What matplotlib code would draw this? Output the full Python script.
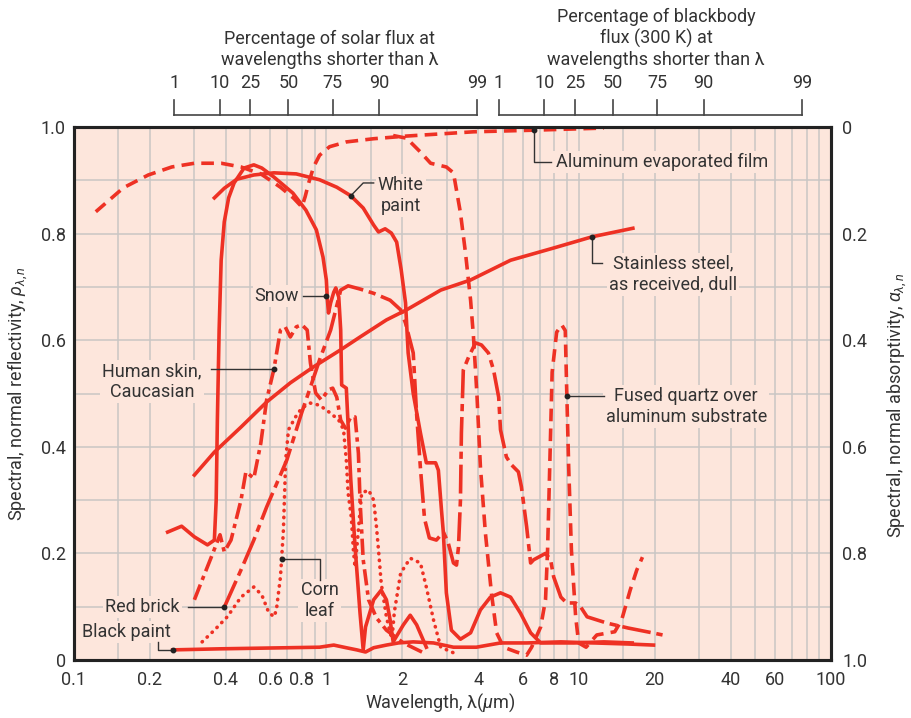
import matplotlib
matplotlib.use('Agg')
import matplotlib.pyplot as plt
from matplotlib.ticker import NullFormatter

plt.rcParams['font.family'] = ['Roboto', 'DejaVu Sans']
plt.rcParams['mathtext.fontset'] = 'custom'
plt.rcParams['mathtext.rm'] = 'Roboto'
plt.rcParams['mathtext.it'] = 'Roboto:italic'

RED = '#ee3124'
BG = '#fde6dc'
TXT = '#333333'
GRID = '#c9c6c4'

# ---- data: wavelength (um) and spectral normal reflectivity ----
alu_wl = [0.122, 0.157, 0.197, 0.244, 0.30, 0.383, 0.459, 0.55, 0.658, 0.74, 0.80,
          0.824, 0.85, 0.89, 0.94, 1.03, 1.20, 1.54, 2.08, 3.83, 6.6, 12.6]
alu_r = [0.841, 0.886, 0.910, 0.925, 0.932, 0.932, 0.925, 0.912, 0.887, 0.867, 0.85,
         0.869, 0.894, 0.925, 0.947, 0.963, 0.972, 0.978, 0.983, 0.991, 0.994, 0.998]

quartz_wl = [1.84, 2.08, 2.36, 2.59, 2.99, 3.19, 3.40, 3.56, 3.73, 3.83,
             3.95, 4.08, 4.27, 4.51, 4.73, 5.04, 5.67, 6.22, 6.51, 7.07,
             7.39, 7.53, 7.62, 7.74, 7.85, 8.18, 8.56, 8.85, 8.96, 9.13,
             9.36, 9.73, 10.0, 10.7, 11.8, 13.9, 14.8, 16.0, 17.0, 17.9]
quartz_r = [0.984, 0.979, 0.953, 0.932, 0.925, 0.914, 0.839, 0.764, 0.675, 0.606,
            0.50, 0.362, 0.238, 0.126, 0.051, 0.024, 0.015, 0.009, 0.024, 0.062,
            0.113, 0.206, 0.30, 0.426, 0.54, 0.615, 0.629, 0.618, 0.512, 0.362,
            0.206, 0.081, 0.032, 0.024, 0.047, 0.053, 0.075, 0.131, 0.169, 0.193]

steel_wl = [0.30, 0.36, 0.459, 0.58, 0.72, 0.89, 1.14, 1.36, 1.73, 2.08, 2.84, 3.73,
            5.37, 7.96, 11.3, 16.4]
steel_r = [0.347, 0.390, 0.437, 0.484, 0.520, 0.550, 0.582, 0.606, 0.638, 0.657, 0.694,
           0.713, 0.75, 0.773, 0.794, 0.810]

paint_wl = [0.36, 0.394, 0.442, 0.516, 0.62, 0.76, 0.94, 1.10, 1.25, 1.40,
            1.54, 1.61, 1.71, 1.81, 1.90, 1.98, 2.06, 2.11, 2.21, 2.36,
            2.49, 2.71, 2.78, 2.86, 2.91, 2.99, 3.13, 3.40, 3.73, 4.08,
            4.47, 4.90, 5.37, 5.88, 6.45, 7.07, 9.55, 12.6, 16.3]
paint_r = [0.867, 0.885, 0.902, 0.910, 0.914, 0.912, 0.901, 0.887, 0.871, 0.848,
           0.816, 0.803, 0.809, 0.801, 0.784, 0.732, 0.670, 0.576, 0.50, 0.426,
           0.37, 0.37, 0.356, 0.281, 0.238, 0.126, 0.056, 0.039, 0.051, 0.094,
           0.118, 0.126, 0.118, 0.088, 0.051, 0.032, 0.032, 0.034, 0.032]

snow_wl = [0.235, 0.267, 0.30, 0.338, 0.36, 0.366, 0.37, 0.376, 0.383, 0.394,
           0.41, 0.431, 0.472, 0.516, 0.555, 0.62, 0.737, 0.83, 0.913, 0.97,
           1.0, 1.01, 1.02, 1.04, 1.07, 1.09, 1.12, 1.14, 1.15, 1.20,
           1.25, 1.30, 1.36, 1.40, 1.43, 1.54, 1.65, 1.73, 1.79, 1.84,
           2.02, 2.15, 2.28, 2.49]
snow_r = [0.24, 0.251, 0.231, 0.216, 0.225, 0.30, 0.45, 0.62, 0.75, 0.822,
          0.867, 0.895, 0.923, 0.929, 0.923, 0.906, 0.876, 0.844, 0.807, 0.756,
          0.713, 0.675, 0.651, 0.67, 0.69, 0.698, 0.681, 0.619, 0.516, 0.51,
          0.338, 0.212, 0.088, 0.019, 0.062, 0.113, 0.131, 0.113, 0.075, 0.034,
          0.066, 0.084, 0.066, 0.024]

skin_wl = [0.30, 0.322, 0.35, 0.379, 0.394, 0.419, 0.459, 0.48, 0.516, 0.55,
           0.58, 0.62, 0.658, 0.687, 0.72, 0.76, 0.80, 0.84, 0.865, 0.907,
           0.955, 1.02, 1.06, 1.10, 1.14, 1.19, 1.25, 1.30, 1.34, 1.36,
           1.40, 1.47, 1.58, 1.73, 2.02, 2.49]
skin_r = [0.113, 0.150, 0.193, 0.235, 0.203, 0.225, 0.30, 0.353, 0.341, 0.407,
          0.488, 0.546, 0.619, 0.625, 0.606, 0.625, 0.629, 0.619, 0.557, 0.501,
          0.488, 0.507, 0.51, 0.493, 0.45, 0.435, 0.456, 0.456, 0.388, 0.30,
          0.188, 0.113, 0.079, 0.056, 0.032, 0.011]

brick_wl = [0.394, 0.459, 0.516, 0.58, 0.697, 0.80, 0.865, 0.94, 1.04, 1.14,
            1.22, 1.36, 1.54, 1.79, 1.97, 2.06, 2.21, 2.28, 2.36, 2.45,
            2.56, 2.73, 2.91, 3.04, 3.19, 3.28, 3.34, 3.40, 3.43, 3.49,
            3.66, 3.90, 4.12, 4.39, 4.60, 4.82, 4.90, 5.17, 5.42, 5.77,
            5.93, 6.22, 6.45, 6.63, 7.39, 7.74, 7.96, 8.5, 8.96, 9.73,
            10.2, 10.8, 13.0, 15.7, 19.6, 21.5]
brick_r = [0.099, 0.169, 0.225, 0.287, 0.375, 0.465, 0.512, 0.563, 0.619, 0.694,
           0.702, 0.696, 0.688, 0.675, 0.657, 0.632, 0.576, 0.46, 0.36, 0.265,
           0.229, 0.225, 0.24, 0.22, 0.182, 0.178, 0.212, 0.30, 0.426, 0.544,
           0.568, 0.595, 0.591, 0.576, 0.544, 0.493, 0.432, 0.381, 0.366, 0.353,
           0.325, 0.25, 0.182, 0.188, 0.20, 0.188, 0.156, 0.118, 0.107, 0.107,
           0.099, 0.081, 0.069, 0.06, 0.051, 0.047]

corn_wl = [0.322, 0.36, 0.405, 0.459, 0.516, 0.555, 0.59, 0.62, 0.634, 0.658,
           0.676, 0.69, 0.708, 0.755, 0.80, 0.865, 0.94, 1.04, 1.12, 1.17,
           1.20, 1.22, 1.256, 1.28, 1.30, 1.38, 1.47, 1.54, 1.58, 1.61,
           1.65, 1.73, 1.79, 1.82, 1.86, 1.97, 2.15, 2.36, 2.49, 2.66,
           2.84, 3.28]
corn_r = [0.034, 0.056, 0.081, 0.118, 0.137, 0.122, 0.09, 0.081, 0.094, 0.156,
          0.244, 0.375, 0.432, 0.456, 0.473, 0.482, 0.478, 0.463, 0.45, 0.432,
          0.375, 0.313, 0.268, 0.206, 0.174, 0.313, 0.319, 0.30, 0.25, 0.206,
          0.144, 0.081, 0.051, 0.04, 0.09, 0.163, 0.191, 0.182, 0.137, 0.075,
          0.024, 0.011]

black_wl = [0.246, 0.383, 0.697, 0.94, 1.07, 1.20, 1.32, 1.43, 1.54, 1.73, 1.93,
            2.21, 2.66, 3.19, 3.93, 4.90, 6.22, 8.5, 11.5, 15.7, 19.8]
black_r = [0.019, 0.021, 0.023, 0.024, 0.028, 0.023, 0.019, 0.015, 0.023, 0.028, 0.032,
           0.034, 0.032, 0.024, 0.024, 0.032, 0.032, 0.034, 0.032, 0.030, 0.028]

# percentage scales on top (wavelengths where the cumulative fraction is reached)
pct_labels = ['1', '10', '25', '50', '75', '90', '99']
solar_wl = [0.25, 0.378, 0.50, 0.708, 1.06, 1.62, 3.97]
bb300_wl = [4.83, 7.32, 9.66, 13.7, 20.5, 31.3, 76.7]

x_ticks = [0.1, 0.2, 0.4, 0.6, 0.8, 1, 2, 4, 6, 8, 10, 20, 40, 60, 100]
x_labels = ['0.1', '0.2', '0.4', '0.6', '0.8', '1', '2', '4', '6', '8', '10',
            '20', '40', '60', '100']
x_grid = [0.15, 0.3, 0.5, 0.7, 0.9, 1.5, 3, 5, 7, 9, 15, 30, 50, 70, 80, 90]
y_ticks = [0, 0.2, 0.4, 0.6, 0.8, 1.0]
y_labels = ['0', '0.2', '0.4', '0.6', '0.8', '1.0']
y_grid = [0.1, 0.3, 0.5, 0.7, 0.9]

fig = plt.figure(figsize=(9.12, 7.18), dpi=100)
ax = fig.add_axes([74 / 912, 58 / 718, 757 / 912, 533 / 718])
ax.set_facecolor(BG)
ax.set_xscale('log')
ax.set_xlim(0.1, 100)
ax.set_ylim(0, 1)
ax.set_xticks(x_ticks)
ax.set_xticklabels(x_labels)
ax.set_xticks(x_grid, minor=True)
ax.xaxis.set_minor_formatter(NullFormatter())
ax.set_yticks(y_ticks)
ax.set_yticklabels(y_labels)
ax.set_yticks(y_grid, minor=True)
ax.set_axisbelow(True)
ax.grid(which='both', color=GRID, lw=1.1)
ax.tick_params(which='both', length=0, labelsize=13, labelcolor=TXT)
ax.tick_params(axis='x', pad=8)
ax.tick_params(axis='y', pad=6)
for s in ax.spines.values():
    s.set_linewidth(2.2)
    s.set_color('#222222')

ax2 = ax.twinx()
ax2.set_ylim(1, 0)
ax2.set_yticks(y_ticks)
ax2.set_yticklabels(y_labels)
ax2.tick_params(length=0, labelsize=13, labelcolor=TXT, pad=8)
for s in ax2.spines.values():
    s.set_linewidth(2.2)
    s.set_color('#222222')

lw = 2.6
ax.plot(alu_wl, alu_r, color=RED, lw=lw, ls=(0, (3.5, 2)))
ax.plot(quartz_wl, quartz_r, color=RED, lw=lw, ls=(0, (3.5, 2)))
ax.plot(steel_wl, steel_r, color=RED, lw=lw)
ax.plot(paint_wl, paint_r, color=RED, lw=lw)
ax.plot(snow_wl, snow_r, color=RED, lw=lw)
ax.plot(black_wl, black_r, color=RED, lw=lw)
ax.plot(skin_wl, skin_r, color=RED, lw=lw, ls=(0, (4.5, 1.4, 1.2, 1.4)))
ax.plot(brick_wl, brick_r, color=RED, lw=lw, ls=(0, (8, 1.6, 2, 1.6)))
ax.plot(corn_wl, corn_r, color=RED, lw=lw, ls=(0, (0.1, 1.8)), dash_capstyle='round')

# labels with leader lines
box = dict(boxstyle='square,pad=0.12', fc=BG, ec='none')


def leader(xs, ys):
    ax.plot(xs, ys, color='#333333', lw=1.0, zorder=5)
    ax.plot(xs[0], ys[0], 'o', ms=3.2, color='#222222', zorder=6)


leader([1.25, 1.40, 1.54], [0.871, 0.895, 0.895])
ax.text(1.60, 0.871, 'White\npaint', ha='left', va='center', multialignment='center',
        fontsize=13, color=TXT, bbox=box, zorder=4)

leader([1.0, 0.81], [0.683, 0.683])
ax.text(0.78, 0.683, 'Snow', ha='right', va='center', fontsize=13, color=TXT, bbox=box, zorder=4)

leader([0.62, 0.35], [0.546, 0.546])
ax.text(0.204, 0.5225, 'Human skin,\nCaucasian', ha='center', va='center',
        fontsize=13, color=TXT, bbox=box, zorder=4)

leader([0.668, 0.94, 0.94], [0.19, 0.19, 0.15])
ax.text(0.94, 0.111, 'Corn\nleaf', ha='center', va='center', fontsize=13, color=TXT,
        bbox=box, zorder=4)

leader([0.394, 0.282], [0.099, 0.099])
ax.text(0.263, 0.099, 'Red brick', ha='right', va='center', fontsize=13, color=TXT,
        bbox=box, zorder=4)

leader([0.246, 0.215, 0.215], [0.019, 0.019, 0.034])
ax.text(0.161, 0.0525, 'Black paint', ha='center', va='center', fontsize=13, color=TXT,
        bbox=box, zorder=4)

leader([6.63, 6.63, 7.74], [0.994, 0.934, 0.934])
ax.text(8.1, 0.934, 'Aluminum evaporated film', ha='left', va='center', fontsize=13,
        color=TXT, bbox=box, zorder=4)

leader([11.3, 11.3, 12.4], [0.794, 0.745, 0.745])
ax.text(23.7, 0.724, 'Stainless steel,\nas received, dull', ha='center', va='center',
        fontsize=13, color=TXT, bbox=box, zorder=4)

leader([8.96, 12.6], [0.495, 0.495])
ax.text(26.7, 0.475, 'Fused quartz over\naluminum substrate', ha='center', va='center',
        fontsize=13, color=TXT, bbox=box, zorder=4)

# percentage scales above the plot
tr = ax.get_xaxis_transform()
for wls in (solar_wl, bb300_wl):
    ax.plot([wls[0], wls[-1]], [1.0225, 1.0225], transform=tr, color='#444444',
            lw=1.2, clip_on=False)
    for w, lab in zip(wls, pct_labels):
        ax.plot([w, w], [1.0225, 1.0507], transform=tr, color='#444444', lw=1.2,
                clip_on=False)
        ax.text(w, 1.0826, lab, transform=tr, ha='center', va='center', fontsize=13,
                color=TXT, clip_on=False)

fig.text(330 / 912, 1 - 49.5 / 718, 'Percentage of solar flux at\nwavelengths shorter than λ',
         ha='center', va='center', fontsize=13, color=TXT)
fig.text(656 / 912, 1 - 38.5 / 718,
         'Percentage of blackbody\nflux (300 K) at\nwavelengths shorter than λ',
         ha='center', va='center', fontsize=13, color=TXT)

fig.text(440 / 912, 1 - 703 / 718, r'Wavelength, λ($\mu$m)', ha='center', va='center',
         fontsize=13, color=TXT)
fig.text(18 / 912, 1 - 393 / 718, r'Spectral, normal reflectivity, $\rho_{\lambda,n}$',
         rotation=90, ha='center', va='center', fontsize=13, color=TXT)
fig.text(897 / 912, 1 - 405 / 718, r'Spectral, normal absorptivity, $\alpha_{\lambda,n}$',
         rotation=90, ha='center', va='center', fontsize=13, color=TXT)

fig.savefig('out.png', dpi=100)
